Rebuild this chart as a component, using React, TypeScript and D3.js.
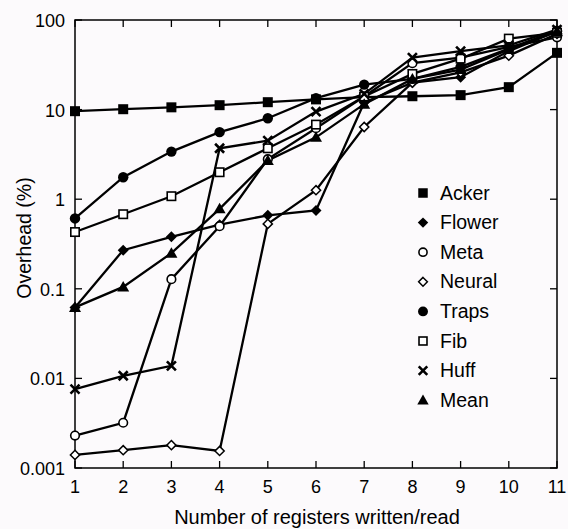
import React from "react";
import * as d3 from "d3";

const xValues = [1, 2, 3, 4, 5, 6, 7, 8, 9, 10, 11];
const yTicks = [0.001, 0.01, 0.1, 1, 10, 100];
const yTickLabels = ["0.001", "0.01", "0.1", "1", "10", "100"];

const acker = [9.6, 10.1, 10.6, 11.2, 12.1, 13.0, 13.8, 14.1, 14.5, 17.8, 43];
const flower = [0.062, 0.27, 0.38, 0.52, 0.66, 0.75, 12, 20, 23, 45, 75];
const meta = [0.0023, 0.0032, 0.128, 0.5, 2.8, 6.2, 14, 33, 38, 50, 64];
const neural = [0.0014, 0.00158, 0.0018, 0.00155, 0.53, 1.26, 6.4, 20, 26, 40, 70];
const traps = [0.61, 1.76, 3.4, 5.6, 8.0, 13.4, 19, 22, 30, 48, 76];
const fib = [0.43, 0.68, 1.08, 2.0, 3.7, 6.8, 14, 25, 37, 62, 72];
const huff = [0.0076, 0.0107, 0.0138, 3.7, 4.5, 9.5, 15, 38, 45, 52, 78];
const mean = [0.062, 0.105, 0.25, 0.78, 2.7, 4.9, 11.5, 22, 28, 47, 74];

const seriesNames = ["Acker", "Flower", "Meta", "Neural", "Traps", "Fib", "Huff", "Mean"];
const seriesData = [acker, flower, meta, neural, traps, fib, huff, mean];
const seriesMarkers = ["fsquare", "fdiamond", "ocircle", "odiamond", "fcircle", "osquare", "cross", "ftriangle"];

const W = 568, H = 529;
const left = 75, right = 557, top = 20, bottom = 468;
const font = "Liberation Sans, Arial, Helvetica, sans-serif";

function Marker({ kind, x, y, s = 1 }: { kind: string; x: number; y: number; s?: number }) {
  const k = "#000";
  switch (kind) {
    case "fsquare":
      return <rect x={x - 5 * s} y={y - 5 * s} width={10 * s} height={10 * s} fill={k} />;
    case "osquare":
      return <rect x={x - 4.2 * s} y={y - 4.2 * s} width={8.4 * s} height={8.4 * s} fill="#fff" stroke={k} strokeWidth={1.6} />;
    case "fcircle":
      return <circle cx={x} cy={y} r={5.2 * s} fill={k} />;
    case "ocircle":
      return <circle cx={x} cy={y} r={4.3 * s} fill="#fff" stroke={k} strokeWidth={1.6} />;
    case "fdiamond": {
      const r = 5.5 * s;
      return <path d={`M${x},${y - r}L${x + r},${y}L${x},${y + r}L${x - r},${y}Z`} fill={k} />;
    }
    case "odiamond": {
      const r = 4.6 * s;
      return <path d={`M${x},${y - r}L${x + r},${y}L${x},${y + r}L${x - r},${y}Z`} fill="#fff" stroke={k} strokeWidth={1.5} />;
    }
    case "ftriangle": {
      const r = 6 * s;
      return <path d={`M${x},${y - r}L${x + r},${y + r * 0.75}L${x - r},${y + r * 0.75}Z`} fill={k} />;
    }
    case "cross": {
      const r = 4.5 * s;
      return <path d={`M${x - r},${y - r}L${x + r},${y + r}M${x - r},${y + r}L${x + r},${y - r}`} stroke={k} strokeWidth={2.6} />;
    }
  }
  return null;
}

export default function App() {
  const x = d3.scaleLinear().domain([1, 11]).range([left, right]);
  const y = d3.scaleLog().domain([0.001, 100]).range([bottom, top]);
  const line = d3.line<number>().x((_, i) => x(xValues[i])).y((d) => y(d));
  const tickLen = 7;
  const legendX = 423, legendTextX = 440, legendY0 = 193, legendStep = 29.6;

  return (
    <svg width={W} height={H} style={{ display: "block", position: "absolute", left: 0, top: 0, background: "#fcfafc" }}>
      <rect x={0} y={0} width={W} height={H} fill="#fcfafc" />
      <rect x={left} y={top} width={right - left} height={bottom - top} fill="none" stroke="#000" strokeWidth={1.5} />
      {xValues.map((v) => (
        <g key={"xt" + v}>
          <line x1={x(v)} x2={x(v)} y1={bottom} y2={bottom - tickLen} stroke="#000" strokeWidth={1.3} />
          <line x1={x(v)} x2={x(v)} y1={top} y2={top + tickLen} stroke="#000" strokeWidth={1.3} />
          <text x={x(v)} y={493} textAnchor="middle" fontFamily={font} fontSize={18}>{v}</text>
        </g>
      ))}
      {yTicks.map((v, i) => (
        <g key={"yt" + v}>
          <line x1={left} x2={left + tickLen} y1={y(v)} y2={y(v)} stroke="#000" strokeWidth={1.3} />
          <line x1={right} x2={right - tickLen} y1={y(v)} y2={y(v)} stroke="#000" strokeWidth={1.3} />
          <text x={65} y={y(v) + 7} textAnchor="end" fontFamily={font} fontSize={18}>{yTickLabels[i]}</text>
        </g>
      ))}
      {seriesData.map((d, i) => (
        <path key={"l" + i} d={line(d) || ""} fill="none" stroke="#000" strokeWidth={2.3} />
      ))}
      {seriesData.map((d, i) => (
        <g key={"m" + i}>
          {d.map((v, j) => (
            <Marker key={j} kind={seriesMarkers[i]} x={x(xValues[j])} y={y(v)} />
          ))}
        </g>
      ))}
      {seriesNames.map((n, i) => (
        <g key={"lg" + n}>
          <Marker kind={seriesMarkers[i]} x={legendX} y={legendY0 + i * legendStep} s={0.95} />
          <text x={legendTextX} y={legendY0 + i * legendStep + 6.5} fontFamily={font} fontSize={19.5}>{n}</text>
        </g>
      ))}
      <text x={317} y={524} textAnchor="middle" fontFamily={font} fontSize={20}>Number of registers written/read</text>
      <text transform={`translate(31,238) rotate(-90)`} textAnchor="middle" fontFamily={font} fontSize={19.5}>Overhead (%)</text>
    </svg>
  );
}
